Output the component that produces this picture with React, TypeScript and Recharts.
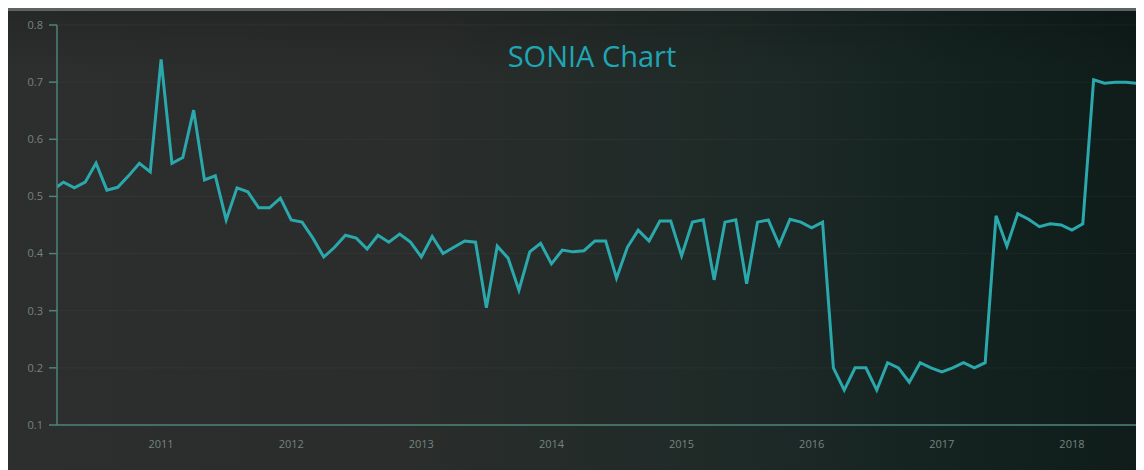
import { LineChart, Line, XAxis, YAxis, CartesianGrid } from "recharts";

// monthly SONIA averages, Mar 2010 -> Jul 2018
const startYear = 2010;
const startMonth = 3;

const sonia = [
  0.511, 0.525, 0.515, 0.525, 0.558, 0.511, 0.516, 0.536, 0.558, 0.543,
  0.74, 0.558, 0.568, 0.651, 0.529, 0.536, 0.459, 0.515, 0.508, 0.48,
  0.48, 0.497, 0.459, 0.455, 0.427, 0.394, 0.411, 0.432, 0.427, 0.408,
  0.432, 0.42, 0.434, 0.42, 0.394, 0.43, 0.4, 0.411, 0.422, 0.42,
  0.305, 0.413, 0.392, 0.336, 0.403, 0.418, 0.382, 0.406, 0.403, 0.405,
  0.422, 0.422, 0.357, 0.411, 0.441, 0.422, 0.457, 0.457, 0.396, 0.455,
  0.459, 0.354, 0.455, 0.459, 0.347, 0.455, 0.459, 0.415, 0.46, 0.455,
  0.445, 0.455, 0.2, 0.161, 0.2, 0.2, 0.161, 0.209, 0.2, 0.175,
  0.209, 0.2, 0.193, 0.2, 0.209, 0.2, 0.209, 0.466, 0.413, 0.47,
  0.46, 0.447, 0.452, 0.45, 0.441, 0.452, 0.704, 0.698, 0.7, 0.7,
  0.698,
];

const yearTicks = [2011, 2012, 2013, 2014, 2015, 2016, 2017, 2018];
const rateTicks = [0.1, 0.2, 0.3, 0.4, 0.5, 0.6, 0.7, 0.8];

const data = sonia.map((v, i) => {
  const m = startMonth - 1 + i;
  return { t: startYear + Math.floor(m / 12) + (m % 12) / 12, rate: v };
});

const axisColor = "#4f8379";
const tickColor = "#74847f";

export default function App() {
  return (
    <div
      style={{
        position: "relative",
        marginLeft: -2,
        width: 1138,
        height: 462,
        background:
          "linear-gradient(90deg, #2d2e2e 0%, #2a2d2c 35%, #1e2a27 65%, #13221f 85%, #0f1c1a 100%)",
        borderTop: "3px solid #5d6262",
        boxSizing: "border-box",
        fontFamily: "'Open Sans', sans-serif",
      }}
    >
      <div
        style={{
          position: "absolute",
          left: 0,
          right: 0,
          top: 0,
          height: 60,
          background: "linear-gradient(180deg, rgba(0,0,0,0.15), rgba(0,0,0,0))",
        }}
      />
      <div
        style={{
          position: "absolute",
          left: 0,
          width: 1172,
          top: 28,
          textAlign: "center",
          color: "#1fa6b4",
          fontSize: 29,
          lineHeight: "34px",
        }}
      >
        SONIA Chart
      </div>
      <LineChart
        width={1138}
        height={459}
        data={data}
        margin={{ top: 14, right: 4, bottom: 0, left: 0 }}
        style={{ position: "absolute", left: 0, top: 0 }}
      >
        <CartesianGrid vertical={false} stroke="rgba(255,255,255,0.04)" />
        <XAxis
          dataKey="t"
          type="number"
          domain={[2010.2, 2018.523]}
          ticks={yearTicks}
          tickFormatter={(v) => String(Math.round(v))}
          allowDataOverflow
          height={45}
          stroke={axisColor}
          strokeWidth={1.5}
          tickLine={false}
          tickMargin={9}
          tick={{ fill: tickColor, fontSize: 11 }}
        />
        <YAxis
          domain={[0.1, 0.8]}
          ticks={rateTicks}
          width={51}
          stroke={axisColor}
          strokeWidth={1.5}
          tickSize={8}
          tickMargin={6}
          tick={{ fill: tickColor, fontSize: 11 }}
        />
        <Line
          type="linear"
          dataKey="rate"
          stroke="#2aa8ac"
          strokeWidth={3}
          dot={false}
          isAnimationActive={false}
        />
      </LineChart>
    </div>
  );
}
